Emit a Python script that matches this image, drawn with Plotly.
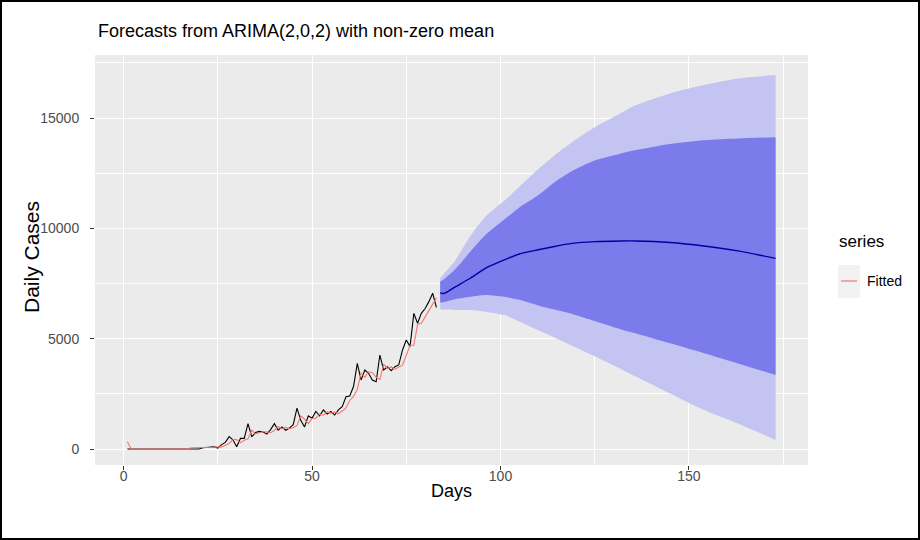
import plotly.graph_objects as go

# ---------------- data ----------------
obs_days = list(range(1, 84))
actual = [0, 0, 0, 0, 0, 0, 0, 0, 0, 0, 0, 0, 0, 0, 0, 0, 0,
          30, 25, 0, 60, 80, 70, 100, 40, 200, 300, 560, 420, 100, 480, 480,
          1150, 550, 750, 800, 770, 680, 880, 1150, 850, 1000, 850, 950, 1100,
          1850, 1300, 1000, 1500, 1400, 1700, 1500, 1770, 1590, 1700, 1540,
          1770, 1920, 2370, 2400, 2830, 3880, 3130, 3580, 3430, 3130, 3050,
          4260, 3580, 3730, 3550, 3730, 3810, 4490, 4940, 4640, 6150, 5700,
          6150, 6370, 6680, 7060, 6420]
fitted = [330, 5, 0, 0, 0, 0, 0, 0, 0, 0, 0, 0, 0, 0, 0, 0, 0,
          60, 60, 55, 50, 70, 80, 80, 100, 90, 170, 250, 420, 430, 280, 400,
          460, 850, 680, 730, 780, 780, 740, 840, 1020, 920, 980, 920, 960,
          1060, 1500, 1350, 1150, 1380, 1400, 1580, 1530, 1680, 1620, 1670,
          1600, 1720, 1860, 2200, 2380, 2700, 3450, 3250, 3500, 3460, 3250,
          3150, 3850, 3650, 3720, 3620, 3720, 3800, 4250, 4700, 4700, 5650,
          5700, 6000, 6250, 6550, 6850]

fc_days = [84, 85, 88, 92, 96, 101, 105, 110, 114, 119, 125, 132, 136, 145, 154, 163, 173]
fc_mean = [7080, 7050, 7350, 7740, 8190, 8570, 8840, 9030, 9170, 9320, 9400, 9430, 9430, 9360, 9200, 8980, 8640]
lo80 = [6630, 6660, 6790, 6900, 6980, 6900, 6760, 6510, 6330, 6120, 5800, 5420, 5240, 4790, 4340, 3880, 3350]
hi80 = [7590, 7700, 8150, 8950, 9700, 10400, 10950, 11500, 12050, 12600, 13080, 13400, 13550, 13830, 14000, 14080, 14130]
lo95 = [6330, 6320, 6300, 6300, 6225, 6070, 5780, 5380, 5080, 4680, 4200, 3620, 3280, 2520, 1770, 1160, 410]
hi95 = [7740, 7950, 8550, 9650, 10530, 11250, 11890, 12680, 13260, 13900, 14580, 15230, 15590, 16120, 16500, 16800, 16950]

x_major = [0, 50, 100, 150]
y_major = [0, 5000, 10000, 15000]
y_major_labels = ["0", "5000", "10000", "15000"]

title_text = "Forecasts from ARIMA(2,0,2) with non-zero mean"
x_title = "Days"
y_title = "Daily Cases"
legend_title = "series"
legend_label = "Fitted"

# ---------------- layout geometry (pixels) ----------------
W, H = 920, 540
L, R, T, B = 95, 808, 55, 465


def px_x(px):
    return (px - L) / (R - L)


def px_y(py):
    return (B - py) / (B - T)


FONT = "Liberation Sans, Arial, sans-serif"

fig = go.Figure()

# 95% band
fig.add_trace(go.Scatter(x=fc_days, y=lo95, mode="lines",
                         line=dict(width=0, shape="spline", smoothing=0.8),
                         hoverinfo="skip", showlegend=False))
fig.add_trace(go.Scatter(x=fc_days, y=hi95, mode="lines", fill="tonexty",
                         fillcolor="#C4C4F2",
                         line=dict(width=0, shape="spline", smoothing=0.8),
                         hoverinfo="skip", showlegend=False))
# 80% band
fig.add_trace(go.Scatter(x=fc_days, y=lo80, mode="lines",
                         line=dict(width=0, shape="spline", smoothing=0.8),
                         hoverinfo="skip", showlegend=False))
fig.add_trace(go.Scatter(x=fc_days, y=hi80, mode="lines", fill="tonexty",
                         fillcolor="#7B7BEC",
                         line=dict(width=0, shape="spline", smoothing=0.8),
                         hoverinfo="skip", showlegend=False))
# observed
fig.add_trace(go.Scatter(x=obs_days, y=actual, mode="lines",
                         line=dict(color="black", width=1.1), showlegend=False))
# fitted
fig.add_trace(go.Scatter(x=obs_days, y=fitted, mode="lines",
                         line=dict(color="#F8766D", width=1.1), showlegend=False))
# forecast mean
fig.add_trace(go.Scatter(x=fc_days, y=fc_mean, mode="lines",
                         line=dict(color="#0000A0", width=1.4, shape="spline", smoothing=0.6),
                         showlegend=False))

axis_common = dict(
    showgrid=True, gridcolor="white", gridwidth=1.1,
    zeroline=False, showline=False,
    ticks="outside", ticklen=4, tickcolor="#333333", tickwidth=1,
    tickfont=dict(family=FONT, size=14, color="#4D4D4D"),
)

fig.update_xaxes(range=[-7.6, 181.6], tickvals=x_major, ticklabelstandoff=-6,
                 minor=dict(tickvals=[25, 75, 125, 175], showgrid=True,
                            gridcolor="white", gridwidth=0.5, ticks=""),
                 **axis_common)
fig.update_yaxes(range=[-725, 17860], tickvals=y_major, ticktext=y_major_labels,
                 ticklabelstandoff=8,
                 minor=dict(tickvals=[2500, 7500, 12500, 17500], showgrid=True,
                            gridcolor="white", gridwidth=0.5, ticks=""),
                 **axis_common)

annotations = [
    dict(text=title_text, x=px_x(96), y=px_y(31), xref="paper", yref="paper",
         xanchor="left", yanchor="middle", showarrow=False,
         font=dict(family=FONT, size=18, color="black")),
    dict(text=x_title, x=px_x(451), y=px_y(491), xref="paper", yref="paper",
         xanchor="center", yanchor="middle", showarrow=False,
         font=dict(family=FONT, size=18, color="black")),
    dict(text=y_title, x=px_x(31), y=px_y(257), xref="paper", yref="paper",
         xanchor="center", yanchor="middle", showarrow=False, textangle=-90,
         font=dict(family=FONT, size=21, color="black")),
    dict(text=legend_title, x=px_x(837), y=px_y(242), xref="paper", yref="paper",
         xanchor="left", yanchor="middle", showarrow=False,
         font=dict(family=FONT, size=17, color="black")),
    dict(text=legend_label, x=px_x(865), y=px_y(281), xref="paper", yref="paper",
         xanchor="left", yanchor="middle", showarrow=False,
         font=dict(family=FONT, size=14, color="black")),
]

shapes = [
    # legend key background
    dict(type="rect", xref="paper", yref="paper",
         x0=px_x(838), x1=px_x(860), y0=px_y(298), y1=px_y(265),
         fillcolor="#F2F2F2", line=dict(width=0)),
    # legend key line
    dict(type="line", xref="paper", yref="paper",
         x0=px_x(841), x1=px_x(857), y0=px_y(281), y1=px_y(281),
         line=dict(color="#F8766D", width=1.2)),
    # image frame
    dict(type="rect", xref="paper", yref="paper",
         x0=px_x(1), x1=px_x(919), y0=px_y(539), y1=px_y(1),
         fillcolor="rgba(0,0,0,0)", line=dict(color="black", width=2)),
]

fig.update_layout(
    width=W, height=H,
    margin=dict(l=L, r=W - R, t=T, b=H - B, pad=0),
    plot_bgcolor="#EBEBEB", paper_bgcolor="white",
    showlegend=False,
    annotations=annotations, shapes=shapes,
    font=dict(family=FONT),
)

fig.write_html("out.html", config={"displayModeBar": False},
               post_script="document.body.style.margin='0';document.body.style.padding='0';")
